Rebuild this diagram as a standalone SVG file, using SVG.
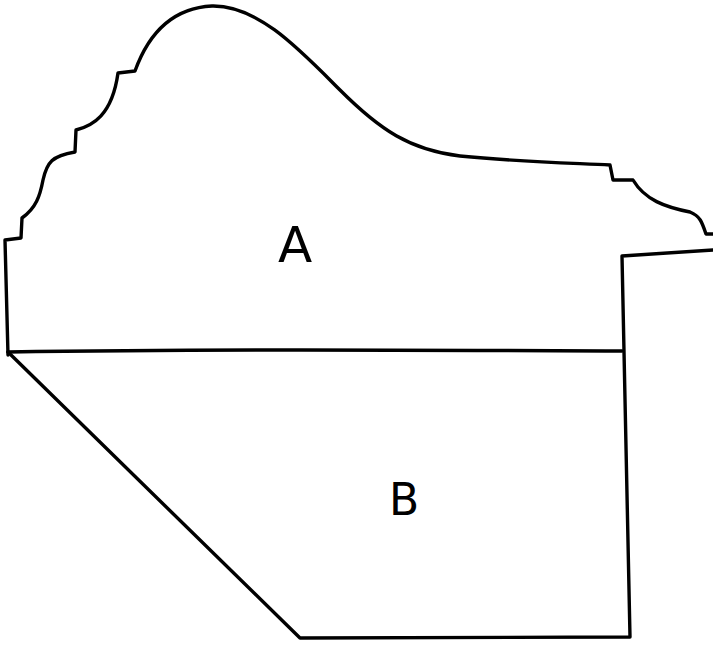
<svg xmlns="http://www.w3.org/2000/svg" width="713" height="648" viewBox="0 0 713 648">
<style>
.ln{fill:none;stroke:#000;stroke-width:3.4;stroke-linejoin:round;stroke-linecap:round}
.lbl{font-family:"DejaVu Sans",sans-serif;fill:#000}
</style>
<rect width="713" height="648" fill="#fff"/>
<g id="region-A">
<path class="ln" d="M 8,355 L 5,240 L 21,238 L 22,218 C 36,208 40,196 43,180 C 47,162 52,156 75,152 L 76,130 C 92,126 112,116 118,73 L 135,71 C 148,35 172,8 212,6 C 258,5 300,50 340,90 C 380,130 410,150 460,156 C 520,162 570,163 610,165 L 613,180 L 633,180 C 645,200 665,207 690,212 C 700,216 702,222 706,234 L 713,234"/>
<path class="ln" d="M 8,352 C 200,349 400,350 622,351"/>
<text class="lbl" x="278" y="262" font-size="50">A</text>
</g>
<g id="region-B">
<path class="ln" d="M 8,352 L 300,638 L 630,637 L 622,256 L 713,250"/>
<text class="lbl" x="389" y="515" font-size="44">B</text>
</g>
</svg>
